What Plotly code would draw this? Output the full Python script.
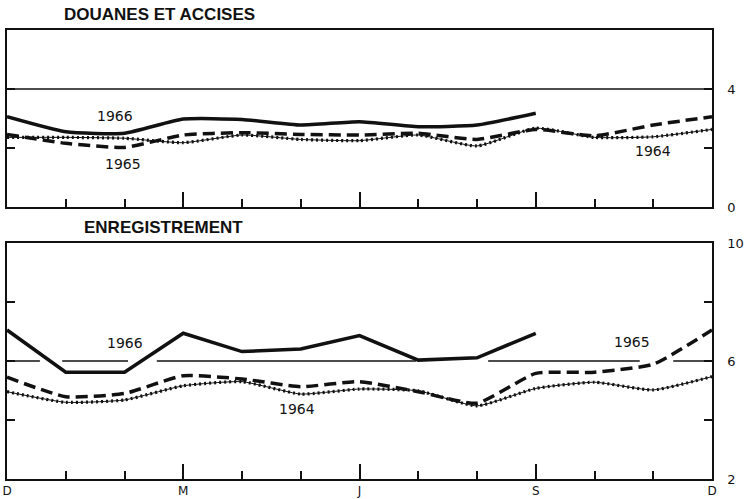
import plotly.graph_objects as go

# ---------------- data ----------------
months = list(range(13))  # D(1963) .. D
quarter_ticks = [0, 3, 6, 9, 12]
quarter_labels = ["D", "M", "J", "S", "D"]

# DOUANES ET ACCISES
douanes_1966 = [3.06, 2.55, 2.50, 2.98, 2.97, 2.78, 2.89, 2.72, 2.78, 3.18]
douanes_1965 = [2.46, 2.16, 2.02, 2.44, 2.52, 2.46, 2.44, 2.50, 2.29, 2.63, 2.41, 2.78, 3.06]
douanes_1964 = [2.36, 2.36, 2.33, 2.18, 2.44, 2.29, 2.25, 2.44, 2.07, 2.67, 2.36, 2.38, 2.63]

# ENREGISTREMENT
enreg_1966 = [7.05, 5.62, 5.62, 6.94, 6.32, 6.41, 6.86, 6.03, 6.11, 6.94]
enreg_1965 = [5.45, 4.79, 4.90, 5.50, 5.39, 5.13, 5.30, 4.96, 4.57, 5.58, 5.62, 5.89, 7.05]
enreg_1964 = [4.96, 4.60, 4.68, 5.16, 5.30, 4.88, 5.05, 4.99, 4.48, 5.07, 5.28, 5.02, 5.47]

top_ref_level = 4
bottom_ref_level = 6
bottom_ref_segments = [(0, 0.56), (0.94, 2.06), (2.55, 6.96), (8.19, 10.77), (11.34, 12)]

top_labels = [("1966", 1.84, 3.08), ("1965", 1.97, 1.46), ("1964", 11.0, 1.90)]
bottom_labels = [("1966", 2.0, 6.61), ("1964", 4.94, 4.37), ("1965", 10.64, 6.64)]

# ---------------- figure ----------------
fig = go.Figure()
BLACK = "#111111"

def add_series(xa, ya, y1966, y1965, y1964, smooth1966):
    # 1964 : thin line with beads
    fig.add_trace(go.Scatter(x=months, y=y1964, mode="lines", xaxis=xa, yaxis=ya,
                             line=dict(color=BLACK, width=1, shape="spline", smoothing=0.5),
                             hoverinfo="skip", showlegend=False))
    fig.add_trace(go.Scatter(x=months, y=y1964, mode="lines", xaxis=xa, yaxis=ya,
                             line=dict(color=BLACK, width=3.2, dash="2px,3px", shape="spline", smoothing=0.5),
                             hoverinfo="skip", showlegend=False))
    # 1965 : dashed
    fig.add_trace(go.Scatter(x=months, y=y1965, mode="lines", xaxis=xa, yaxis=ya,
                             line=dict(color=BLACK, width=3.5, dash="12px,6px", shape="spline", smoothing=0.5),
                             hoverinfo="skip", showlegend=False))
    # 1966 : solid
    fig.add_trace(go.Scatter(x=months[:len(y1966)], y=y1966, mode="lines", xaxis=xa, yaxis=ya,
                             line=dict(color=BLACK, width=3.5,
                                       shape="spline" if smooth1966 else "linear", smoothing=0.5),
                             hoverinfo="skip", showlegend=False))

# reference lines
fig.add_trace(go.Scatter(x=[0, 12], y=[top_ref_level, top_ref_level], mode="lines",
                         xaxis="x", yaxis="y", line=dict(color=BLACK, width=1.5),
                         hoverinfo="skip", showlegend=False))
for a, b in bottom_ref_segments:
    fig.add_trace(go.Scatter(x=[a, b], y=[bottom_ref_level, bottom_ref_level], mode="lines",
                             xaxis="x2", yaxis="y2", line=dict(color=BLACK, width=1.5),
                             hoverinfo="skip", showlegend=False))

add_series("x", "y", douanes_1966, douanes_1965, douanes_1964, True)
add_series("x2", "y2", enreg_1966, enreg_1965, enreg_1964, False)

LABEL_FONT = dict(family="DejaVu Sans", size=14, color=BLACK)
for txt, x, y in top_labels:
    fig.add_annotation(x=x, y=y, xref="x", yref="y", text=txt, showarrow=False, font=LABEL_FONT)
for txt, x, y in bottom_labels:
    fig.add_annotation(x=x, y=y, xref="x2", yref="y2", text=txt, showarrow=False, font=LABEL_FONT)

TITLE_FONT = dict(family="Liberation Sans", size=17, color=BLACK)
fig.add_annotation(x=0.078, y=1.035, xref="paper", yref="paper", xanchor="left", yanchor="middle",
                   text="<b>DOUANES ET ACCISES</b>", showarrow=False, font=TITLE_FONT)
fig.add_annotation(x=0.106, y=0.561, xref="paper", yref="paper", xanchor="left", yanchor="middle",
                   text="<b>ENREGISTREMENT</b>", showarrow=False, font=TITLE_FONT)

TICK_FONT = dict(family="DejaVu Sans", size=13, color=BLACK)
XTICK_FONT = dict(family="DejaVu Sans", size=12, color=BLACK)
xcommon = dict(range=[0, 12], showgrid=False, zeroline=False, showline=True, linecolor=BLACK,
               linewidth=1.5, mirror=True, ticks="inside", ticklen=15, tickwidth=1.5,
               tickcolor=BLACK, tickvals=quarter_ticks, automargin=False,
               minor=dict(ticks="inside", ticklen=8, tickwidth=1.5, tickcolor=BLACK, dtick=1, showgrid=False))
ycommon = dict(showgrid=False, zeroline=False, showline=True, linecolor=BLACK, linewidth=1.5,
               mirror="ticks", ticks="inside", ticklen=8, tickwidth=1.5, tickcolor=BLACK,
               side="right", tickfont=TICK_FONT, ticklabelstandoff=11, automargin=False)

fig.update_layout(
    width=745, height=499,
    margin=dict(l=7, r=33, t=30, b=20, autoexpand=False),
    paper_bgcolor="white", plot_bgcolor="white",
    xaxis=dict(xcommon, domain=[0, 1], anchor="y", showticklabels=False),
    yaxis=dict(ycommon, domain=[0.6058, 1], anchor="x", range=[0, 6],
               tickvals=[0, 2, 4, 6], ticktext=["0", "", "4", ""]),
    xaxis2=dict(xcommon, domain=[0, 1], anchor="y2", showticklabels=True,
                ticktext=quarter_labels, tickfont=XTICK_FONT, ticklabelstandoff=0),
    yaxis2=dict(ycommon, domain=[0, 0.5256], anchor="x2", range=[2, 10],
                tickvals=[2, 4, 6, 8, 10], ticktext=["2", "", "6", "", "10"]),
)

fig.write_html("out.html", config={"displayModeBar": False},
               post_script="document.body.style.margin='0';document.body.style.overflow='hidden';")
